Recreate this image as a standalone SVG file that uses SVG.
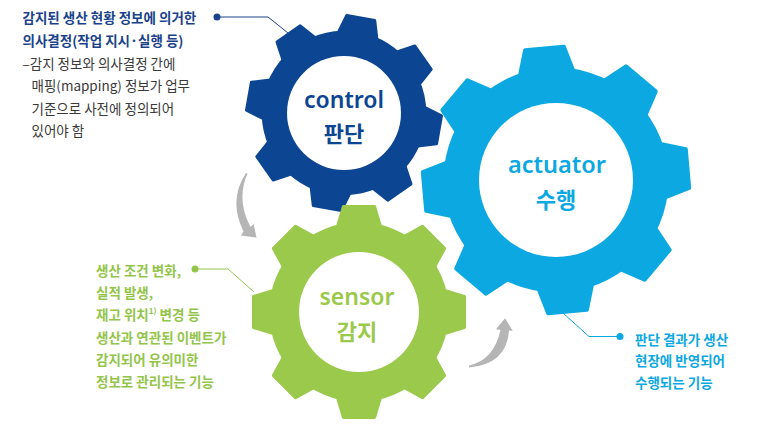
<svg xmlns="http://www.w3.org/2000/svg" xmlns:xlink="http://www.w3.org/1999/xlink" width="770" height="441" viewBox="0 0 770 441">
<style>
.ctl{fill:#0c4592;stroke:#0c4592}
.sen{fill:#9bc94b;stroke:#9bc94b}
.act{fill:#0ca8e2;stroke:#0ca8e2}
.hole{fill:#fff;stroke:none}
.lbl{font-family:"Noto Sans","Noto Sans CJK KR",sans-serif;font-weight:600;text-anchor:middle}
.note{font-family:"Noto Sans CJK KR","Noto Sans",sans-serif;font-size:13.5px}
.b{font-weight:700}
.line{fill:none;stroke-width:1}
.arrow{fill:#b5b5b5;stroke:none}
</style>
<defs>
<path id="tooth" d="M -20,-80 L -14.5,-98.5 L 14.5,-98.5 L 20,-80 Z" stroke-width="3" stroke-linejoin="round"/>
<g id="teeth">
<use xlink:href="#tooth"/>
<use xlink:href="#tooth" transform="rotate(45)"/>
<use xlink:href="#tooth" transform="rotate(90)"/>
<use xlink:href="#tooth" transform="rotate(135)"/>
<use xlink:href="#tooth" transform="rotate(180)"/>
<use xlink:href="#tooth" transform="rotate(225)"/>
<use xlink:href="#tooth" transform="rotate(270)"/>
<use xlink:href="#tooth" transform="rotate(315)"/>
</g>
</defs>

<g id="actuator" transform="translate(556,180)">
<g class="act" transform="scale(1.34) rotate(40)">
<circle r="84" stroke="none"/>
<use xlink:href="#teeth"/>
</g>
<circle class="hole" r="77"/>
<text class="lbl" x="1" y="-7" font-size="23.5" fill="#0ca8e2">actuator</text>
<text class="lbl" x="0" y="28" font-size="22" fill="#0ca8e2">수행</text>
</g>

<g id="control" transform="translate(344,113)">
<g class="ctl" transform="scale(0.98) rotate(10)">
<circle r="84" stroke="none"/>
<use xlink:href="#teeth"/>
</g>
<circle class="hole" r="57"/>
<text class="lbl" x="0" y="-5" font-size="23" fill="#0c4592">control</text>
<text class="lbl" x="0" y="29" font-size="22" fill="#0c4592">판단</text>
</g>

<g id="sensor" transform="translate(359,312)">
<g class="sen" transform="scale(1.07)">
<circle r="84" stroke="none"/>
<use xlink:href="#teeth"/>
</g>
<circle class="hole" r="60"/>
<text class="lbl" x="-2" y="-7" font-size="23" fill="#9bc94b">sensor</text>
<text class="lbl" x="-2" y="28" font-size="22" fill="#9bc94b">감지</text>
</g>

<g id="connectors">
<polyline class="line" stroke="#1a428a" points="217,17 268,17 288,33"/>
<circle cx="217" cy="17" r="3.5" fill="#1a428a"/>
<polyline class="line" stroke="#93c54b" points="195,269 228,269 254,292"/>
<circle cx="195" cy="269" r="3.5" fill="#93c54b"/>
<polyline class="line" stroke="#0ca8e2" points="620,336.5 589,336.5 563,313"/>
<circle cx="620" cy="336.5" r="3.5" fill="#0ca8e2"/>
<path class="arrow" d="M 246,173 Q 228,200 243.5,231.5 L 241,235.5 L 256.5,237.5 L 253.5,224 L 250.5,227 Q 236,200 247.5,173.5 Z"/>
<path class="arrow" d="M 469,365.5 Q 494,360 500.5,330 L 496,329.3 L 505,318.3 L 512.7,330.7 L 509,330.5 Q 507,364 469,367.5 Z"/>
</g>

<g id="control-note" class="note">
<text x="22.5" y="23" class="b" fill="#1a428a">감지된 생산 현황 정보에 의거한</text>
<text x="22.5" y="46" class="b" fill="#1a428a">의사결정(작업 지시·실행 등)</text>
<text x="22.5" y="69" fill="#3a3a3a">–감지 정보와 의사결정 간에</text>
<text x="31.5" y="91" fill="#3a3a3a">매핑(mapping) 정보가 업무</text>
<text x="31.5" y="114" fill="#3a3a3a">기준으로 사전에 정의되어</text>
<text x="31.5" y="136" fill="#3a3a3a">있어야 함</text>
</g>

<g id="sensor-note" class="note b" fill="#93c54b">
<text x="96" y="276">생산 조건 변화,</text>
<text x="96" y="298">실적 발생,</text>
<text x="96" y="320">재고 위치<tspan font-size="8" dy="-6">1)</tspan><tspan dy="6"> 변경 등</tspan></text>
<text x="96" y="343">생산과 연관된 이벤트가</text>
<text x="96" y="365">감지되어 유의미한</text>
<text x="96" y="387">정보로 관리되는 기능</text>
</g>

<g id="actuator-note" class="note b" fill="#0ca8e2">
<text x="635" y="344.5">판단 결과가 생산</text>
<text x="635" y="366">현장에 반영되어</text>
<text x="635" y="388">수행되는 기능</text>
</g>
</svg>
